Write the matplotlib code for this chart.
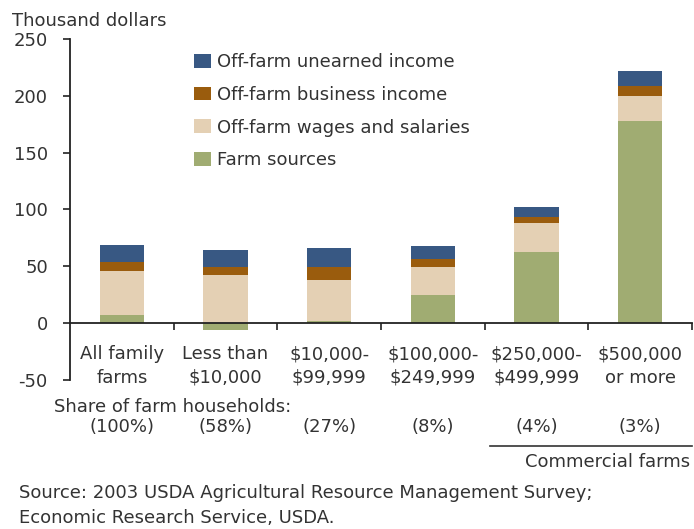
import matplotlib.pyplot as plt
from matplotlib.transforms import blended_transform_factory
from matplotlib.patches import Patch

# Data (thousand dollars)
categories = ["All family\nfarms", "Less than\n$10,000", "$10,000-\n$99,999",
              "$100,000-\n$249,999", "$250,000-\n$499,999", "$500,000\nor more"]
shares = ["(100%)", "(58%)", "(27%)", "(8%)", "(4%)", "(3%)"]

farm_sources = [7.3, -6.0, 2.0, 25.0, 62.5, 178.0]
wages_salaries = [38.7, 42.5, 36.0, 24.5, 25.5, 22.0]
business_income = [8.0, 7.0, 11.5, 7.0, 5.5, 9.0]
unearned_income = [15.0, 15.0, 17.0, 11.5, 8.5, 13.0]

series = [
    ("Farm sources", farm_sources, "#a0ac72"),
    ("Off-farm wages and salaries", wages_salaries, "#e4d0b4"),
    ("Off-farm business income", business_income, "#9a5c0d"),
    ("Off-farm unearned income", unearned_income, "#385883"),
]

text_color = "#333333"
fs = 13
plt.rcParams["font.family"] = "DejaVu Sans"
plt.rcParams["font.size"] = fs

fig = plt.figure(figsize=(6.94, 5.29), dpi=100)
ax = fig.add_axes([0.101, 0.2817, 0.896, 0.6446])

x = list(range(len(categories)))
bottoms = [0.0] * len(categories)
for name, values, color in series:
    starts = []
    for i, v in enumerate(values):
        starts.append(bottoms[i] if v >= 0 else 0.0)
    ax.bar(x, values, width=0.43, bottom=starts, color=color, label=name, zorder=2)
    for i, v in enumerate(values):
        if v > 0:
            bottoms[i] += v

ax.set_xlim(-0.5, 5.5)
ax.set_ylim(-50, 250)

# axes styling
for side in ["top", "right"]:
    ax.spines[side].set_visible(False)
ax.spines["bottom"].set_position(("data", 0))
ax.spines["bottom"].set_zorder(3)
for side in ["left", "bottom"]:
    ax.spines[side].set_color("#222222")
    ax.spines[side].set_linewidth(1.3)

ax.set_yticks([-50, 0, 50, 100, 150, 200, 250])
ax.set_yticklabels(["-50", "0", "50", "100", "150", "200", "250"])
ax.tick_params(axis="y", direction="out", length=5, width=1.2, pad=11,
               colors="#222222", labelcolor=text_color, labelsize=fs)
ax.set_xticks([i + 0.5 for i in x])
ax.set_xticklabels([])
ax.tick_params(axis="x", direction="out", length=5, width=1.2, colors="#222222")

# category labels and shares
trans = blended_transform_factory(ax.transData, fig.transFigure)
for i, lab in enumerate(categories):
    ax.text(i, 1 - 345 / 529, lab, transform=trans, ha="center", va="top",
            fontsize=fs, color=text_color, linespacing=1.4)
    ax.text(i, 1 - 432 / 529, shares[i], transform=trans, ha="center",
            va="baseline", fontsize=fs, color=text_color)

fig.text(173 / 694, 1 - 412 / 529, "Share of farm households:", ha="center",
         va="baseline", fontsize=fs, color=text_color)

# commercial farms bracket
ax.plot([3.55, 5.5], [1 - 446 / 529] * 2, transform=trans, color="#333333",
        lw=1.2, clip_on=False)
fig.text(690 / 694, 1 - 467 / 529, "Commercial farms", ha="right",
         va="baseline", fontsize=fs, color=text_color)

fig.text(12 / 694, 1 - 26 / 529, "Thousand dollars", ha="left",
         va="baseline", fontsize=fs, color=text_color)

fig.text(19 / 694, 1 - 498 / 529,
         "Source: 2003 USDA Agricultural Resource Management Survey;",
         ha="left", va="baseline", fontsize=fs, color=text_color)
fig.text(19 / 694, 1 - 523 / 529, "Economic Research Service, USDA.",
         ha="left", va="baseline", fontsize=fs, color=text_color)

# legend (top entry first)
handles = [Patch(facecolor=c, label=n) for n, v, c in reversed(series)]
ax.legend(handles=handles, loc="upper left",
          bbox_to_anchor=(194 / 694, 1 - 53 / 529), bbox_transform=fig.transFigure,
          frameon=False, handlelength=0.95, handleheight=0.8,
          handletextpad=0.3, labelspacing=0.82, borderaxespad=0,
          borderpad=0, fontsize=fs, labelcolor=text_color)

fig.savefig("out.png", dpi=100)
